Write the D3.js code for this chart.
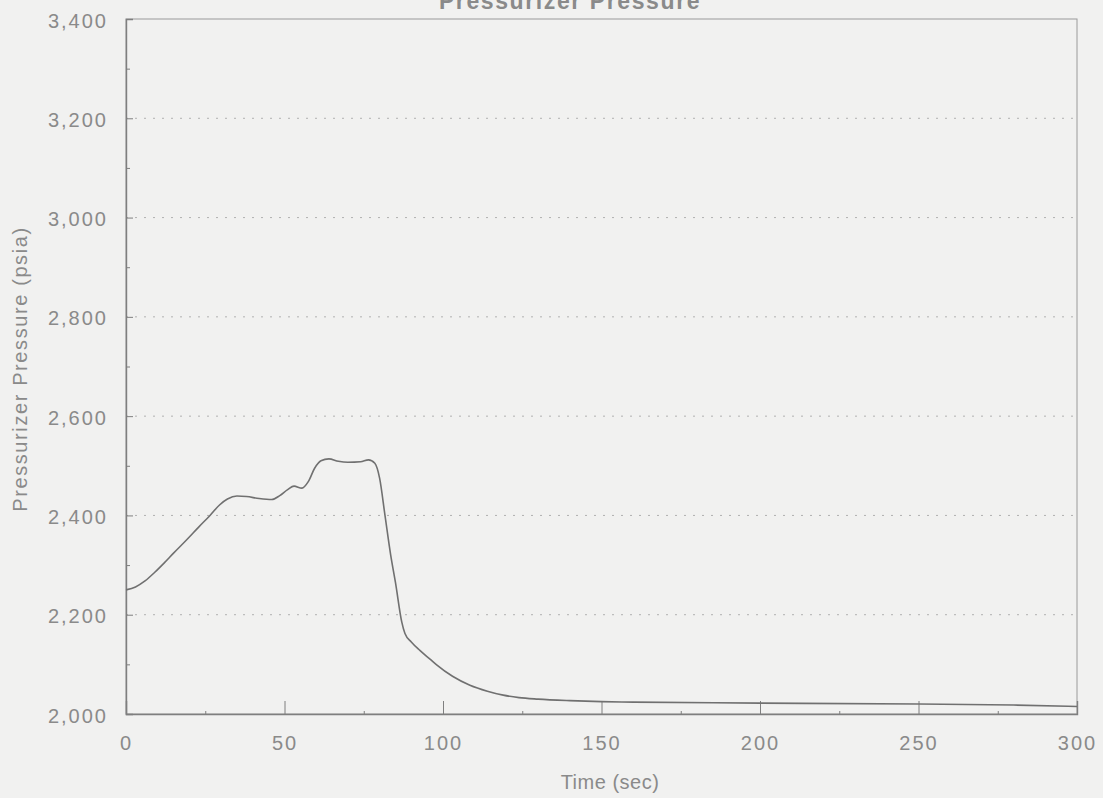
<!DOCTYPE html>
<html>
<head>
<meta charset="utf-8">
<script src="https://cdn.jsdelivr.net/npm/d3@7"></script>
<style>
  html, body { margin: 0; padding: 0; background: #f1f1f0; }
  svg { display: block; }
  text { font-family: "Liberation Sans", Arial, Helvetica, sans-serif; fill: #8a8a8a; }
</style>
</head>
<body>
<svg id="chart" width="1103" height="798"></svg>
<script>
// Pressurizer pressure transient (psia) against time (sec)
const timeSec = [0, 3, 6, 9, 12, 15, 19, 23, 26.5, 29.5, 32, 35, 38, 42, 46, 48.5, 51, 53, 55.5, 57.5,
  59.5, 61.5, 64, 67, 70, 74, 76.5, 78.5, 80, 81.7, 83.5, 85, 87, 88, 90, 92.7, 96, 98, 103, 108.5,
  114, 119, 124, 130, 140, 150, 160, 200, 250, 280, 300];
const pressurePsia = [2250, 2256, 2268, 2285, 2304, 2324, 2350, 2377, 2400, 2421, 2433, 2439, 2438, 2434, 2432, 2440, 2452, 2459, 2455, 2468,
  2495, 2510, 2514, 2509, 2507, 2508, 2512, 2505, 2475, 2400, 2320, 2265, 2185, 2162, 2145, 2128, 2110, 2099, 2076, 2058,
  2046, 2038, 2033, 2030, 2027, 2025, 2024, 2022, 2020, 2018, 2015];

const xTicks = [0, 50, 100, 150, 200, 250, 300];
const yTicks = [2000, 2200, 2400, 2600, 2800, 3000, 3200, 3400];
const yGridValues = [2200, 2400, 2600, 2800, 3000, 3200];

const titleText = "Pressurizer Pressure";
const xTitle = "Time (sec)";
const yTitle = "Pressurizer Pressure (psia)";

const svg = d3.select("#chart");
const plotLeft = 126, plotRight = 1077, plotTop = 19, plotBottom = 714;

const x = d3.scaleLinear().domain([0, 300]).range([plotLeft, plotRight]);
const y = d3.scaleLinear().domain([2000, 3400]).range([plotBottom, plotTop]);

const axisColor = "#7f7f7f";
const textColor = "#8a8a8a";

// dotted horizontal grid
svg.append("g")
  .selectAll("line")
  .data(yGridValues)
  .join("line")
  .attr("x1", plotLeft).attr("x2", plotRight)
  .attr("y1", d => y(d)).attr("y2", d => y(d))
  .attr("stroke", "#b0b0b0")
  .attr("stroke-width", 1)
  .attr("stroke-dasharray", "2,7");

// frame
svg.append("rect")
  .attr("x", plotLeft).attr("y", plotTop)
  .attr("width", plotRight - plotLeft).attr("height", plotBottom - plotTop)
  .attr("fill", "none")
  .attr("stroke", "#9a9a9a")
  .attr("stroke-width", 1);

// left axis: major ticks every 200, minor every 100, pointing inward
const yAxis = d3.axisLeft(y).tickValues(yTicks)
  .tickSize(-7).tickPadding(18)
  .tickFormat(d3.format(","));
const gy = svg.append("g").attr("transform", `translate(${plotLeft},0)`).call(yAxis);
gy.select(".domain").attr("stroke", axisColor).attr("stroke-width", 1.4);
gy.selectAll(".tick line").attr("stroke", axisColor);
gy.selectAll(".tick text")
  .attr("font-size", 20).attr("fill", textColor)
  .attr("letter-spacing", 2).attr("dy", "0.4em")
  .attr("font-family", "Liberation Sans, Arial, sans-serif");
const gyMinor = svg.append("g").attr("transform", `translate(${plotLeft},0)`)
  .call(d3.axisLeft(y).tickValues(d3.range(2100, 3400, 200)).tickSize(-4).tickFormat(""));
gyMinor.select(".domain").remove();
gyMinor.selectAll(".tick line").attr("stroke", axisColor);

// bottom axis: major ticks every 50, minor every 25, pointing inward
const xAxis = d3.axisBottom(x).tickValues(xTicks).tickSize(-13).tickPadding(22).tickFormat(d3.format("d"));
const gx = svg.append("g").attr("transform", `translate(0,${plotBottom})`).call(xAxis);
gx.select(".domain").attr("stroke", axisColor).attr("stroke-width", 1.4);
gx.selectAll(".tick line").attr("stroke", axisColor);
gx.selectAll(".tick text")
  .attr("font-size", 20).attr("fill", textColor)
  .attr("letter-spacing", 2)
  .attr("font-family", "Liberation Sans, Arial, sans-serif");
const gxMinor = svg.append("g").attr("transform", `translate(0,${plotBottom})`)
  .call(d3.axisBottom(x).tickValues(d3.range(25, 300, 50)).tickSize(-3).tickFormat(""));
gxMinor.select(".domain").remove();
gxMinor.selectAll(".tick line").attr("stroke", axisColor);

// pressure curve
const series = timeSec.map((t, i) => ({ t, p: pressurePsia[i] }));
svg.append("path")
  .datum(series)
  .attr("fill", "none")
  .attr("stroke", "#707070")
  .attr("stroke-width", 1.6)
  .attr("d", d3.line().x(d => x(d.t)).y(d => y(d.p)).curve(d3.curveMonotoneX));

// titles
svg.append("text")
  .attr("x", 570).attr("y", 9)
  .attr("text-anchor", "middle")
  .attr("font-size", 23).attr("font-weight", "bold")
  .attr("letter-spacing", 1.6)
  .attr("fill", "#7a7a7a")
  .text(titleText);

svg.append("text")
  .attr("x", 610).attr("y", 789)
  .attr("text-anchor", "middle")
  .attr("font-size", 20)
  .attr("letter-spacing", 0.5)
  .text(xTitle);

svg.append("text")
  .attr("transform", `translate(27,369) rotate(-90)`)
  .attr("text-anchor", "middle")
  .attr("font-size", 20)
  .attr("letter-spacing", 1.6)
  .text(yTitle);
</script>
</body>
</html>
